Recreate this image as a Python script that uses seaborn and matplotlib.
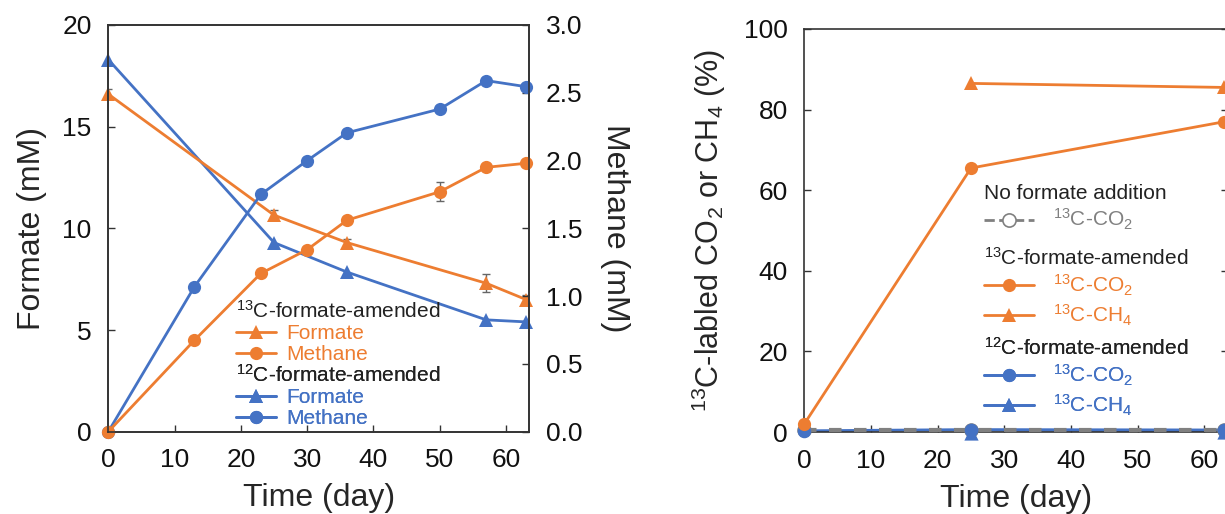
import numpy as np
import pandas as pd
import seaborn as sns
import matplotlib
matplotlib.use("Agg")
import matplotlib.pyplot as plt
from matplotlib.lines import Line2D

# ---- data -------------------------------------------------------------
# left panel: formate (mM, left axis) and methane (mM, right axis)
formate_days = [0, 25, 36, 57, 63]
formate_13c = [16.6, 10.65, 9.3, 7.3, 6.5]
formate_13c_err = [0.25, 0.25, 0.2, 0.45, 0.2]
formate_12c = [18.3, 9.3, 7.85, 5.5, 5.4]

methane_days = [0, 13, 23, 30, 36, 50, 57, 63]
methane_13c = [0, 0.675, 1.167, 1.343, 1.56, 1.77, 1.95, 1.98]
methane_13c_err = [0, 0, 0, 0, 0, 0.07, 0, 0]
methane_12c = [0, 1.07, 1.75, 2.0, 2.205, 2.38, 2.59, 2.545]

# right panel: 13C-labeled fraction (%)
label_days = [0, 25, 63]
co2_13c_amended = [2.0, 65.5, 77.0]
ch4_days = [25, 63]
ch4_13c_amended = [86.5, 85.5]
co2_12c_amended = [0.3, 0.6, 0.5]
ch4_12c_amended = [-0.3, 0.0]
co2_no_formate = [0.4, 0.4, 0.4]

ORANGE = "#ED7D31"
BLUE = "#4472C4"
GRAY = "#808080"

sns.set_style("ticks")
plt.rcParams["font.family"] = ["Liberation Sans", "DejaVu Sans"]
plt.rcParams["mathtext.fontset"] = "custom"
plt.rcParams["mathtext.rm"] = "Liberation Sans"
plt.rcParams["mathtext.it"] = "Liberation Sans"
plt.rcParams["axes.edgecolor"] = "#333333"
plt.rcParams["axes.linewidth"] = 1.2

W, H = 1225, 514
fig = plt.figure(figsize=(W / 100, H / 100), dpi=100)

def px_axes(left, top, right, bottom):
    return fig.add_axes([left / W, 1 - bottom / H, (right - left) / W, (bottom - top) / H])

TICK = 19
LAB = 23
LEG = 15
LW = 2
MS = 9.5

def style(ax):
    ax.tick_params(direction="in", length=5, width=1, labelsize=TICK, pad=12, colors="#333333",
                   labelcolor="#111111")

def group_legend(ax, title, handles, x, y, **kw):
    leg = ax.legend(handles=handles, title=title, loc="upper left",
                    bbox_to_anchor=(x / W, 1 - y / H), bbox_transform=fig.transFigure,
                    frameon=False, fontsize=LEG, title_fontsize=LEG, labelcolor="linecolor",
                    borderpad=0, borderaxespad=0, alignment="left", **kw)
    leg.get_title().set_color("#222222")
    ax.add_artist(leg)
    return leg

def h(color, marker, label, ls="-", mfc=None):
    return Line2D([], [], color=color, marker=marker, ls=ls, lw=LW, ms=MS,
                  mfc=mfc if mfc else color, mew=1.2 if mfc else 0, label=label)

# ---- left panel -------------------------------------------------------
ax1 = px_axes(108.3, 25, 529.3, 431.7)
ax2 = ax1.twinx()

sns.lineplot(x=formate_days, y=formate_12c, ax=ax1, color=BLUE, lw=LW, marker="^",
             markersize=MS, markeredgewidth=0, clip_on=False)
sns.lineplot(x=formate_days, y=formate_13c, ax=ax1, color=ORANGE, lw=LW, marker="^",
             markersize=MS, markeredgewidth=0, clip_on=False)
ax1.errorbar(formate_days, formate_13c, yerr=formate_13c_err, fmt="none",
             ecolor="#666666", elinewidth=1, capsize=3, zorder=1)

sns.lineplot(x=methane_days, y=methane_12c, ax=ax2, color=BLUE, lw=LW, marker="o",
             markersize=MS, markeredgewidth=0, clip_on=False)
sns.lineplot(x=methane_days, y=methane_13c, ax=ax2, color=ORANGE, lw=LW, marker="o",
             markersize=MS, markeredgewidth=0, clip_on=False)
ax2.errorbar(methane_days, methane_13c, yerr=methane_13c_err, fmt="none",
             ecolor="#666666", elinewidth=1, capsize=3, zorder=1)

ax1.set_xlim(0, 63.5)
ax1.set_ylim(0, 20)
ax2.set_ylim(0, 3.0)
ax1.set_xticks(range(0, 61, 10))
ax1.set_yticks(range(0, 21, 5))
ax2.set_yticks(np.arange(0, 3.01, 0.5))
ax2.set_yticklabels([f"{v:.1f}" for v in np.arange(0, 3.01, 0.5)])
for a in (ax1, ax2):
    style(a)
ax1.set_xlabel("Time (day)", fontsize=LAB, labelpad=8)
ax1.set_ylabel("Formate (mM)", fontsize=LAB, labelpad=11)
ax2.set_ylabel("Methane (mM)", fontsize=LAB, rotation=270, labelpad=34)

leg_kw = dict(handlelength=1.9, handletextpad=0.5, labelspacing=0.1)
group_legend(ax2, r"$^{13}$C-formate-amended",
             [h(ORANGE, "^", "Formate"), h(ORANGE, "o", "Methane")], 236, 300, **leg_kw)
group_legend(ax2, r"$^{12}$C-formate-amended",
             [h(BLUE, "^", "Formate"), h(BLUE, "o", "Methane")], 236, 364, **leg_kw)

# ---- right panel ------------------------------------------------------
ax3 = px_axes(804.3, 29, 1227.8, 432)

sns.lineplot(x=label_days, y=co2_12c_amended, ax=ax3, color=BLUE, lw=LW, zorder=2)
sns.lineplot(x=ch4_days, y=ch4_12c_amended, ax=ax3, color=BLUE, lw=LW, zorder=2)
ax3.plot(label_days, co2_no_formate, color=GRAY, lw=3, ls=(0, (3, 3)), marker="o",
         ms=MS, mfc="white", mec=GRAY, zorder=3, clip_on=False)
sns.scatterplot(x=label_days, y=co2_12c_amended, ax=ax3, color=BLUE, s=95, linewidth=0,
                zorder=4, clip_on=False)
sns.scatterplot(x=ch4_days, y=ch4_12c_amended, ax=ax3, color=BLUE, marker="^", s=105,
                linewidth=0, zorder=4, clip_on=False)
sns.lineplot(x=label_days, y=co2_13c_amended, ax=ax3, color=ORANGE, lw=LW, marker="o",
             markersize=MS, markeredgewidth=0, zorder=5, clip_on=False)
sns.lineplot(x=ch4_days, y=ch4_13c_amended, ax=ax3, color=ORANGE, lw=LW, marker="^",
             markersize=MS, markeredgewidth=0, zorder=5, clip_on=False)

ax3.set_xlim(0, 63.5)
ax3.set_ylim(0, 100)
ax3.set_xticks(range(0, 61, 10))
ax3.set_yticks(range(0, 101, 20))
style(ax3)
ax3.tick_params(right=True)
ax3.set_xlabel("Time (day)", fontsize=LAB, labelpad=8)
ax3.set_ylabel(r"$^{13}$C-labled CO$_2$ or CH$_4$ (%)", fontsize=22, labelpad=11)

leg_kw = dict(handlelength=2.4, handletextpad=0.9, labelspacing=0.2)
group_legend(ax3, "No formate addition",
             [h(GRAY, "o", r"$^{13}$C-CO$_2$", ls="--", mfc="white")], 984, 184, **leg_kw)
group_legend(ax3, r"$^{13}$C-formate-amended",
             [h(ORANGE, "o", r"$^{13}$C-CO$_2$"), h(ORANGE, "^", r"$^{13}$C-CH$_4$")],
             984, 247, **leg_kw)
group_legend(ax3, r"$^{12}$C-formate-amended",
             [h(BLUE, "o", r"$^{13}$C-CO$_2$"), h(BLUE, "^", r"$^{13}$C-CH$_4$")],
             984, 337, **leg_kw)

fig.savefig("out.png", dpi=100)
